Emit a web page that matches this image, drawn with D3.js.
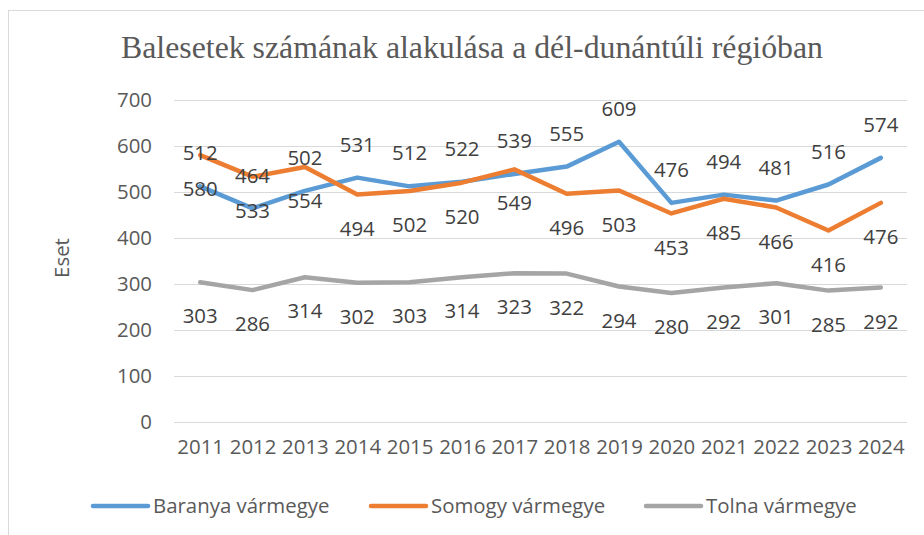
<!DOCTYPE html>
<html>
<head>
<meta charset="utf-8">
<script src="https://cdn.jsdelivr.net/npm/d3@7"></script>
<style>
  body { margin: 0; background: #fff; }
  svg { display: block; }
</style>
</head>
<body>
<svg id="chart" width="924" height="535"></svg>
<script>
const years = ["2011","2012","2013","2014","2015","2016","2017","2018","2019","2020","2021","2022","2023","2024"];
const baranya = [512, 464, 502, 531, 512, 522, 539, 555, 609, 476, 494, 481, 516, 574];
const somogy  = [580, 533, 554, 494, 502, 520, 549, 496, 503, 453, 485, 466, 416, 476];
const tolna   = [303, 286, 314, 302, 303, 314, 323, 322, 294, 280, 292, 301, 285, 292];
const yTicks  = [0, 100, 200, 300, 400, 500, 600, 700];
const seriesNames = ["Baranya vármegye", "Somogy vármegye", "Tolna vármegye"];
const titleText = "Balesetek számának alakulása a dél-dunántúli régióban";
const yAxisTitle = "Eset";

const series = [
  { name: seriesNames[0], values: baranya, color: "#5B9BD5", labelPos: "above" },
  { name: seriesNames[1], values: somogy,  color: "#ED7D31", labelPos: "below" },
  { name: seriesNames[2], values: tolna,   color: "#A5A5A5", labelPos: "below" }
];

const svg = d3.select("#chart");
const sans = "'Open Sans', sans-serif";
const fs = 20.4;

// chart border
svg.append("rect")
  .attr("x", 8.5).attr("y", 10.5)
  .attr("width", 930).attr("height", 540)
  .attr("fill", "#fff").attr("stroke", "#D9D9D9").attr("stroke-width", 1);

// title
svg.append("text")
  .attr("x", 472).attr("y", 58)
  .attr("text-anchor", "middle")
  .attr("font-family", "'Liberation Serif', 'Times New Roman', serif")
  .attr("font-size", 31.8)
  .attr("fill", "#595959")
  .text(titleText);

const x = d3.scalePoint().domain(years).range([174, 907]).padding(0.5);
const y = d3.scaleLinear().domain([0, 700]).range([421.5, 100]);

// gridlines
svg.append("g")
  .selectAll("line")
  .data(yTicks)
  .join("line")
  .attr("x1", 174).attr("x2", 907)
  .attr("y1", d => Math.round(y(d)) + 0.5)
  .attr("y2", d => Math.round(y(d)) + 0.5)
  .attr("stroke", "#D9D9D9").attr("stroke-width", 1);

// y axis
const yAxis = svg.append("g")
  .attr("transform", "translate(152,0)")
  .call(d3.axisLeft(y).tickValues(yTicks).tickSize(0).tickPadding(0));
yAxis.select(".domain").remove();
yAxis.selectAll("text")
  .attr("font-family", sans).attr("font-size", fs).attr("fill", "#595959");

// x axis
const xAxis = svg.append("g")
  .attr("transform", "translate(0,440)")
  .call(d3.axisBottom(x).tickSize(0).tickPadding(0));
xAxis.select(".domain").remove();
xAxis.selectAll("text")
  .attr("font-family", sans).attr("font-size", fs).attr("fill", "#595959");

// y axis title
svg.append("text")
  .attr("transform", "translate(62,258) rotate(-90)")
  .attr("text-anchor", "middle")
  .attr("dy", "0.35em")
  .attr("font-family", sans).attr("font-size", fs).attr("fill", "#595959")
  .text(yAxisTitle);

// lines
const line = d3.line().x((d, i) => x(years[i])).y(d => y(d));
series.forEach(s => {
  svg.append("path")
    .datum(s.values)
    .attr("d", line)
    .attr("fill", "none")
    .attr("stroke", s.color)
    .attr("stroke-width", 4.5)
    .attr("stroke-linejoin", "round")
    .attr("stroke-linecap", "round");
});

// data labels
series.forEach(s => {
  svg.append("g")
    .selectAll("text")
    .data(s.values)
    .join("text")
    .attr("x", (d, i) => x(years[i]))
    .attr("y", d => y(d) + (s.labelPos === "above" ? -33 : 34))
    .attr("dy", "0.35em")
    .attr("text-anchor", "middle")
    .attr("font-family", sans).attr("font-size", fs).attr("fill", "#404040")
    .text(d => d);
});

// legend
const legendX = [93, 371, 646];
const legend = svg.append("g");
series.forEach((s, i) => {
  const g = legend.append("g").attr("transform", `translate(${legendX[i]},506)`);
  g.append("line")
    .attr("x1", 0).attr("x2", 55).attr("y1", 0).attr("y2", 0)
    .attr("stroke", s.color).attr("stroke-width", 4.5).attr("stroke-linecap", "round");
  g.append("text")
    .attr("x", 60).attr("y", 0).attr("dy", "0.35em")
    .attr("font-family", sans).attr("font-size", fs).attr("fill", "#595959")
    .text(s.name);
});
</script>
</body>
</html>
